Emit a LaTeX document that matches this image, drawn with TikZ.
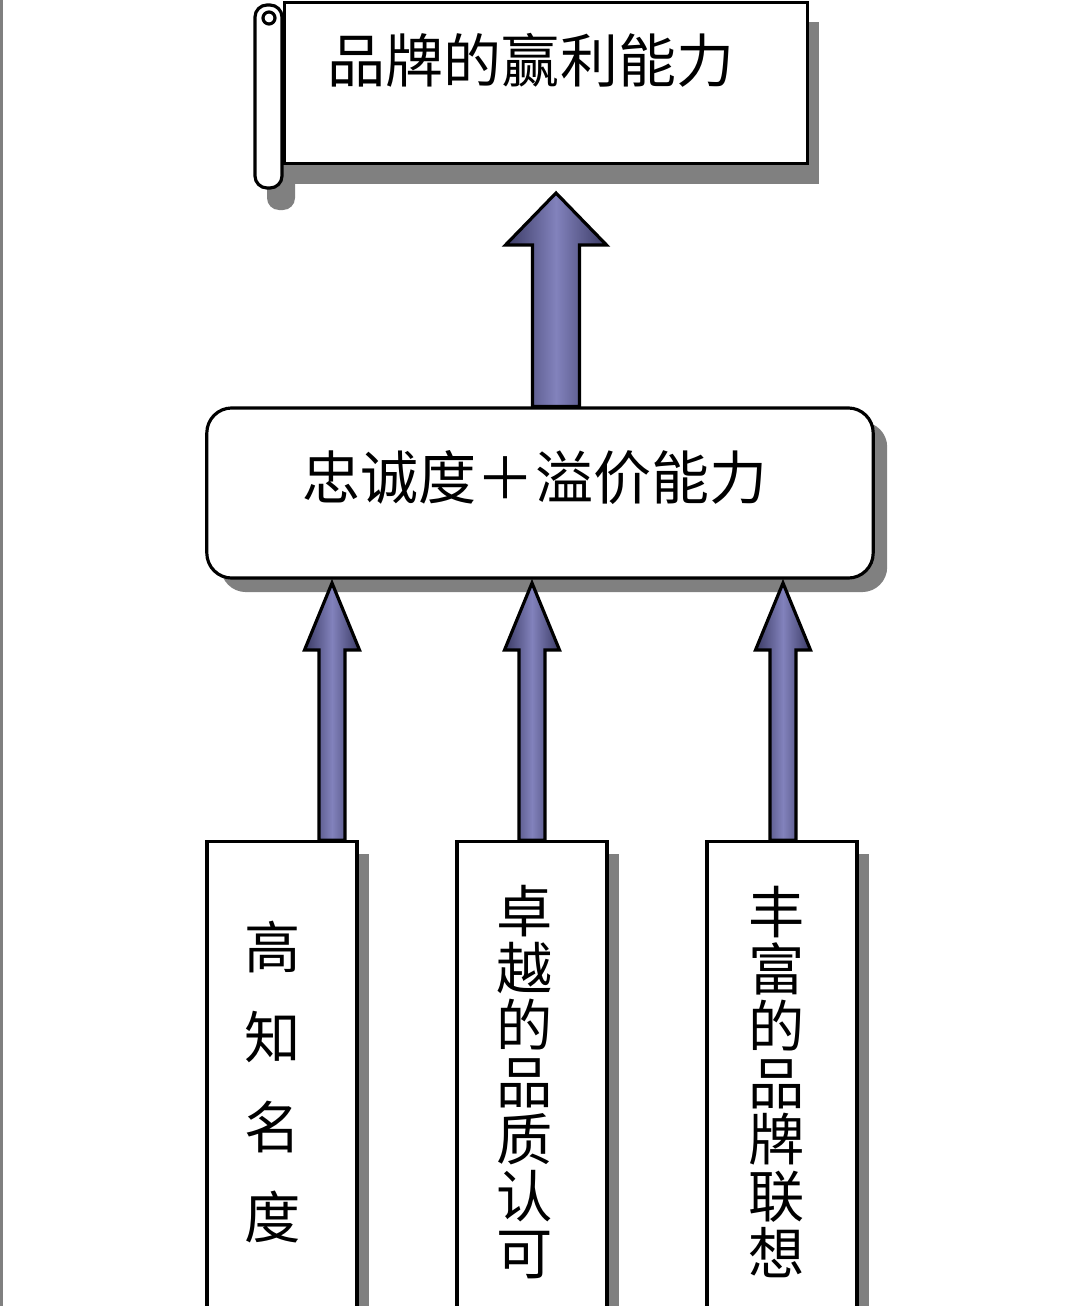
\documentclass[tikz,border=0pt]{standalone}
\usepackage{fontspec}
\newfontfamily\cjk{Noto Sans CJK SC}
\usetikzlibrary{shadows,calc}

\definecolor{shadowgray}{RGB}{128,128,128}
\definecolor{arrowdark}{RGB}{58,58,100}
\definecolor{arrowmid}{RGB}{130,130,188}

\tikzset{
  box/.style={draw=black, line width=0.9pt, fill=white, inner sep=0pt},
  boxshadow/.style={drop shadow={shadow xshift=#1, shadow yshift=-#1, fill=shadowgray, opacity=1}},
  blockarrow/.style={draw=black, line width=0.9pt, left color=arrowdark, right color=arrowdark, middle color=arrowmid},
  label text/.style={font=\cjk\fontsize{16.5}{18}\selectfont},
  column text/.style={font=\cjk\fontsize{16}{#1}\selectfont, align=center, inner sep=0pt},
}

% #1 foot, #2 tip, #3 half shaft, #4 half head, #5 head length
\newcommand{\blockarrow}[5]{%
  \path[blockarrow] let \p1=(#1), \p2=(#2) in
    (\x2-#3,\y1) -- (\x2-#3,\y2-#5) -- (\x2-#4,\y2-#5) -- (\x2,\y2)
    -- (\x2+#4,\y2-#5) -- (\x2+#3,\y2-#5) -- (\x2+#3,\y1) -- cycle;}

\begin{document}
\begin{tikzpicture}[x=0.01cm, y=-0.01cm]
    \useasboundingbox (0,0) rectangle (1080,1306);
    \clip (0,0) rectangle (1080,1306);
    \fill[white] (0,0) rectangle (1080,1306);
    \draw[shadowgray, line width=1.2pt] (1,0) -- (1,1306);

    % scroll on top
    \fill[shadowgray, rounded corners=0.12cm] (267,25) rectangle (295,210);
    \node[box, drop shadow={shadow xshift=0.11cm, shadow yshift=-0.2cm, fill=shadowgray, opacity=1},
          minimum width=5.23cm, minimum height=1.61cm] (profit) at (546,83) {};
    \draw[box, rounded corners=0.12cm] (255,5) rectangle (282,188);
    \draw[line width=0.9pt] (269,18) circle (0.06cm);
    \node[label text] (profittext) at (531,60) {品牌的赢利能力};

    % middle box
    \node[box, boxshadow=0.14cm, rounded corners=0.25cm,
          minimum width=6.66cm, minimum height=1.70cm] (loyal) at (540,493) {};
    \node[label text] (loyaltext) at (535,478) {忠诚度＋溢价能力};

    % bottom columns
    \node[box, boxshadow=0.12cm, minimum width=1.50cm, minimum height=4.90cm] (fame) at (282,1087) {};
    \node[box, boxshadow=0.12cm, minimum width=1.50cm, minimum height=4.90cm] (quality) at (532,1087) {};
    \node[box, boxshadow=0.12cm, minimum width=1.50cm, minimum height=4.90cm] (assoc) at (782,1087) {};
    \node[column text=25.6] (fametext) at (273,1082) {高\\知\\名\\度};
    \node[column text=16.2] (qualitytext) at (525,1082) {卓\\越\\的\\品\\质\\认\\可};
    \node[column text=16.2] (assoctext) at (777,1082) {丰\\富\\的\\品\\牌\\联\\想};

    % arrows
    \coordinate (bigtip) at (556,193);
    \coordinate (tipA) at (332,583);
    \coordinate (tipB) at (532,583);
    \coordinate (tipC) at (783,583);
    \blockarrow{loyal.north}{bigtip}{0.235cm}{0.505cm}{0.52cm}
    \blockarrow{fame.north}{tipA}{0.13cm}{0.275cm}{0.67cm}
    \blockarrow{quality.north}{tipB}{0.13cm}{0.275cm}{0.67cm}
    \blockarrow{assoc.north}{tipC}{0.13cm}{0.275cm}{0.67cm}
\end{tikzpicture}
\end{document}
